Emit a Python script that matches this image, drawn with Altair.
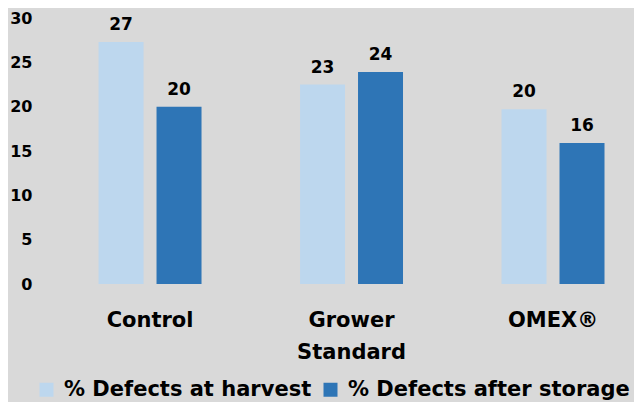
import altair as alt
import pandas as pd

categories = ["Control", "Grower Standard", "OMEX®"]
series = ["% Defects at harvest", "% Defects after storage"]
harvest = [27.3, 22.5, 19.7]
storage = [20.0, 23.9, 15.9]
harvest_labels = ["27", "23", "20"]
storage_labels = ["20", "24", "16"]
colors = ["#bdd7ee", "#2e75b6"]

rows = []
for c, v, l in zip(categories, harvest, harvest_labels):
    rows.append({"cat": c, "series": series[0], "value": v, "label": l})
for c, v, l in zip(categories, storage, storage_labels):
    rows.append({"cat": c, "series": series[1], "value": v, "label": l})
df = pd.DataFrame(rows)

FONT = "DejaVu Sans"

base = alt.Chart(df).encode(
    x=alt.X(
        "cat:N",
        sort=categories,
        scale=alt.Scale(paddingInner=0.489, paddingOuter=0.2185, align=0.665),
        axis=alt.Axis(
            title=None, labelAngle=0, domain=False, ticks=False,
            labelFont=FONT, labelFontWeight="bold", labelFontSize=21,
            labelColor="black", labelPadding=25, labelLineHeight=32,
            labelExpr="datum.label == 'Grower Standard' ? ['Grower', 'Standard'] : datum.label",
        ),
    ),
    xOffset=alt.XOffset(
        "series:N", sort=series,
        scale=alt.Scale(paddingInner=0.224, paddingOuter=0),
    ),
    y=alt.Y(
        "value:Q",
        scale=alt.Scale(domain=[0, 30]),
        axis=alt.Axis(
            title=None, values=[0, 5, 10, 15, 20, 25, 30], grid=False,
            domain=False, ticks=False, labelFont=FONT, labelFontWeight="bold",
            labelFontSize=16, labelColor="black", labelPadding=8,
        ),
    ),
)

bars = base.mark_bar().encode(
    color=alt.Color(
        "series:N", sort=series,
        scale=alt.Scale(domain=series, range=colors),
        legend=alt.Legend(
            title=None, orient="none", legendX=-4, legendY=361,
            direction="horizontal", symbolType="square", symbolSize=196,
            symbolStrokeWidth=0, symbolOffset=0, padding=0,
            labelFont=FONT, labelFontWeight="bold",
            labelFontSize=21, labelColor="black", labelOffset=7,
            columnPadding=8, labelLimit=400,
        ),
    )
)

text = base.mark_text(
    baseline="alphabetic", dy=-12, font=FONT, fontWeight="bold",
    fontSize=17, color="black",
).encode(text="label:N")

chart = (
    alt.layer(bars, text)
    .properties(
        width=594, height=266,
        autosize=alt.AutoSizeParams(type="none"),
        padding={"left": 32, "top": 10, "right": 0, "bottom": 118},
        background="#d9d9d9",
    )
    .configure_view(stroke=None)
)

chart.save("out.html", embed_options={"renderer": "svg", "actions": False})
